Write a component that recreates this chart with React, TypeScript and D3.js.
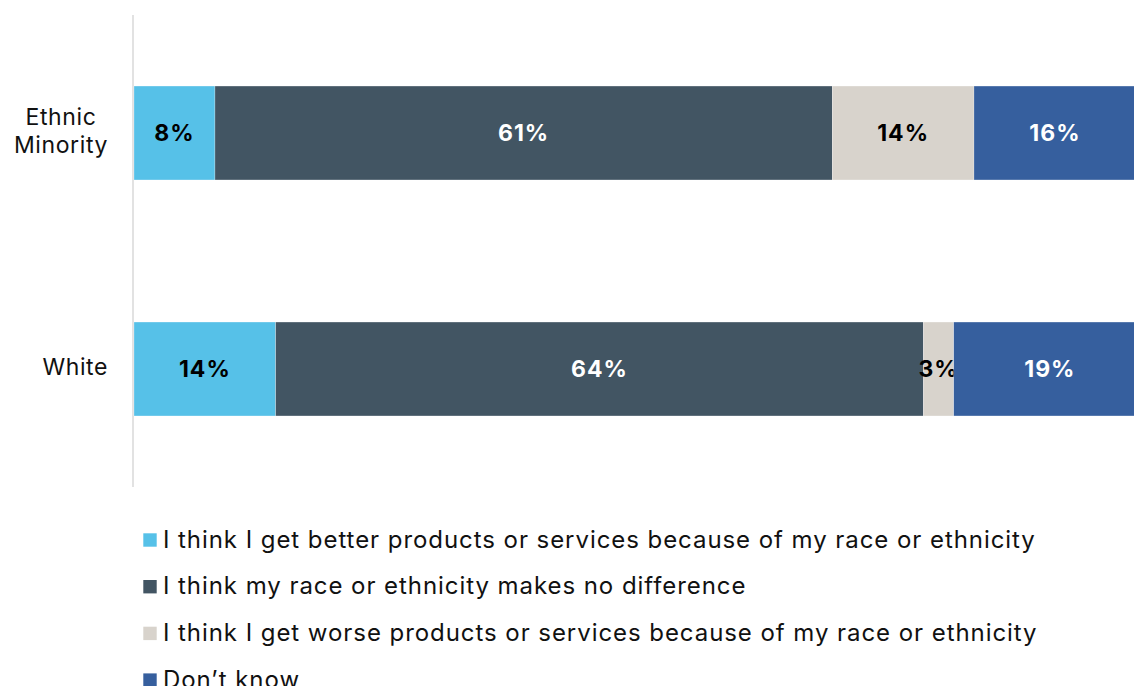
import React, { useEffect, useRef } from "react";
import * as d3 from "d3";

const categories = ["Ethnic Minority", "White"];
const categoryLines = [["Ethnic", "Minority"], ["White"]];
const seriesNames = [
  "I think I get better products or services because of my race or ethnicity",
  "I think my race or ethnicity makes no difference",
  "I think I get worse products or services because of my race or ethnicity",
  "Don\u2019t know",
];
const ethnicMinorityValues = [8, 61, 14, 16];
const whiteValues = [14, 64, 3, 19];
const seriesColors = ["#56C1E8", "#425563", "#D8D3CC", "#365F9E"];
const labelColors = ["#000000", "#ffffff", "#000000", "#ffffff"];

const W = 1134;
const H = 686;
const FONT = "Inter, 'Noto Sans', sans-serif";

export default function App() {
  const catRef = useRef<SVGGElement>(null);
  const values = [ethnicMinorityValues, whiteValues];

  const x = d3.scaleLinear().domain([0, 100]).range([134, 1146]);
  const y = d3
    .scaleBand<string>()
    .domain(categories)
    .range([15, 487])
    .paddingInner(0.602)
    .paddingOuter(0.301);

  const stackData = categories.map((c, i) => {
    const row: any = { cat: c };
    seriesNames.forEach((s, j) => (row[s] = values[i][j]));
    return row;
  });
  const stacked = d3.stack<any>().keys(seriesNames)(stackData);

  useEffect(() => {
    const g = d3.select(catRef.current);
    g.selectAll("*").remove();
    const rightEdge = 108;
    categories.forEach((c, i) => {
      const lines = categoryLines[i];
      const cy = (y(c) as number) + y.bandwidth() / 2;
      const lh = 28;
      const texts = lines.map((ln, k) =>
        g
          .append("text")
          .attr("font-family", FONT)
          .attr("font-size", 23)
          .attr("letter-spacing", 0.6)
          .attr("fill", "#111")
          .attr("text-anchor", "middle")
          .attr("y", cy + (k - (lines.length - 1) / 2) * lh + 6)
          .text(ln)
      );
      const maxW = d3.max(texts, (t) => (t.node() as SVGTextElement).getComputedTextLength()) || 0;
      texts.forEach((t) => t.attr("x", rightEdge - maxW / 2));
    });
  }, []);

  const legendTop = 540;
  const legendStep = 46.7;

  return (
    <svg
      width={W}
      height={H}
      style={{ position: "absolute", left: 0, top: 0, background: "#fff" }}
    >
      <line x1={133} x2={133} y1={15} y2={487} stroke="#d9d9d9" strokeWidth={1.5} />
      {stacked.map((layer, j) => (
        <g key={j}>
          {layer.map((d, i) => {
            const x0 = x(d[0]);
            const x1 = x(d[1]);
            const by = y(categories[i]) as number;
            return (
              <g key={i}>
                <rect
                  x={x0}
                  y={by}
                  width={x1 - x0}
                  height={y.bandwidth()}
                  fill={seriesColors[j]}
                  stroke="#ffffff"
                  strokeOpacity={0.5}
                  strokeWidth={0.5}
                />
                <text
                  x={(x0 + x1) / 2}
                  y={by + y.bandwidth() / 2 + 8}
                  textAnchor="middle"
                  fontFamily={FONT}
                  fontSize={23}
                  fontWeight="bold"
                  letterSpacing={1}
                  fill={labelColors[j]}
                >
                  {values[i][j]}%
                </text>
              </g>
            );
          })}
        </g>
      ))}
      <g ref={catRef} />
      {seriesNames.map((s, j) => {
        const cy = legendTop + j * legendStep;
        return (
          <g key={s}>
            <rect x={143.3} y={cy - 6.7} width={13.4} height={13.4} fill={seriesColors[j]} />
            <text
              x={163}
              y={cy + 7.5}
              fontFamily={FONT}
              fontSize={24}
              letterSpacing={0.94}
              fill="#111"
            >
              {s}
            </text>
          </g>
        );
      })}
    </svg>
  );
}
